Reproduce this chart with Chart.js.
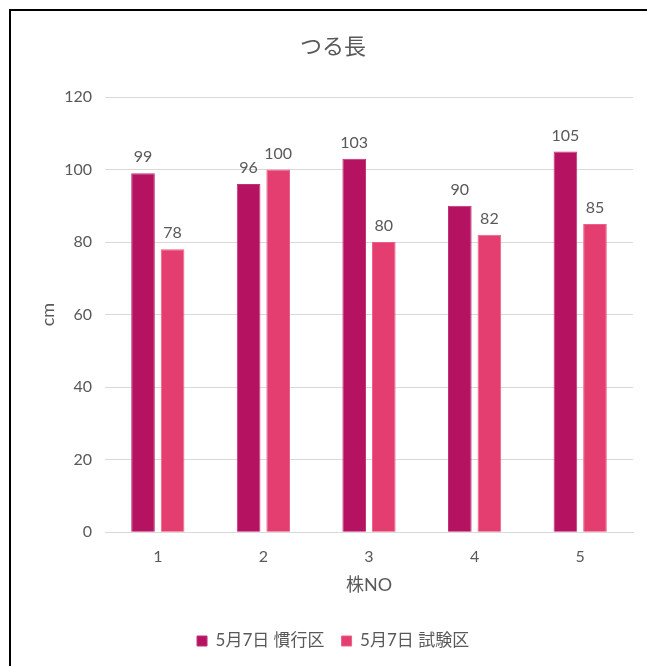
<!DOCTYPE html>
<html>
<head>
<meta charset="utf-8">
<script src="https://cdn.jsdelivr.net/npm/chart.js@4.4.0/dist/chart.umd.min.js"></script>
<style>
  html, body { margin: 0; padding: 0; background: #fff; }
  #frame { position: absolute; left: 9px; top: 9px; width: 700px; height: 700px; border: 2px solid #000; box-sizing: border-box; }
  #wrap { position: absolute; left: 0; top: 0; width: 647px; height: 666px; }
</style>
</head>
<body>
<div id="frame"></div>
<div id="wrap"><canvas id="chart1"></canvas></div>
<script>
var plantNo = ["1", "2", "3", "4", "5"];
var conventional = [99, 96, 103, 90, 105];
var trial = [78, 100, 80, 82, 85];
var seriesNames = ["5月7日 慣行区", "5月7日 試験区"];

var fontFamily = 'Lato, "Noto Sans CJK JP", sans-serif';
var textColor = "#595959";

// value labels above each bar
var barLabels = {
  id: "barLabels",
  afterDatasetsDraw: function (chart) {
    var ctx = chart.ctx;
    ctx.save();
    ctx.font = "16px " + fontFamily;
    ctx.fillStyle = textColor;
    ctx.textAlign = "center";
    ctx.textBaseline = "bottom";
    chart.data.datasets.forEach(function (ds, i) {
      chart.getDatasetMeta(i).data.forEach(function (bar, j) {
        ctx.fillText(ds.data[j], bar.x, bar.y - 8);
      });
    });
    ctx.restore();
  }
};

var ctx = document.getElementById("chart1");
var myChart = new Chart(ctx, {
  type: "bar",
  data: {
    labels: plantNo,
    datasets: [
      {
        label: seriesNames[0],
        data: conventional,
        backgroundColor: "rgb(181, 19, 98)",
        borderColor: "rgb(192, 50, 120)",
        borderWidth: 1
      },
      {
        label: seriesNames[1],
        data: trial,
        backgroundColor: "rgb(228, 61, 111)",
        borderColor: "rgb(236, 95, 137)",
        borderWidth: 1
      }
    ]
  },
  options: {
    responsive: true,
    maintainAspectRatio: false,
    animation: false,
    layout: { padding: { left: 33.2, right: 14, top: 20, bottom: 6.5 } },
    plugins: {
      title: {
        display: true,
        text: "つる長",
        color: textColor,
        font: { family: fontFamily, size: 22, weight: "normal" },
        padding: { top: 14, bottom: 36.6 }
      },
      legend: {
        position: "bottom",
        labels: {
          color: textColor,
          font: { family: fontFamily, size: 17 },
          boxWidth: 10,
          boxHeight: 10,
          padding: 17
        }
      },
      tooltip: { enabled: false }
    },
    datasets: {
      bar: { categoryPercentage: 0.56, barPercentage: 0.8 }
    },
    scales: {
      x: {
        grid: { display: false, drawTicks: false },
        border: { color: "#d9d9d9" },
        ticks: {
          color: textColor,
          font: { family: fontFamily, size: 16 },
          padding: 15
        },
        title: {
          display: true,
          text: "株NO",
          color: textColor,
          font: { family: fontFamily, size: 18 },
          padding: { top: -7.2, bottom: 19.7 }
        }
      },
      y: {
        min: 0,
        max: 120,
        ticks: {
          stepSize: 20,
          color: textColor,
          font: { family: fontFamily, size: 16 },
          padding: 13
        },
        grid: { color: "#d9d9d9", drawTicks: false },
        border: { display: false },
        title: {
          display: true,
          text: "cm",
          color: textColor,
          font: { family: fontFamily, size: 18 }
        },
        afterFit: function (scale) {
          scale.width = 71.8;
        }
      }
    }
  },
  plugins: [barLabels]
});
</script>
</body>
</html>
